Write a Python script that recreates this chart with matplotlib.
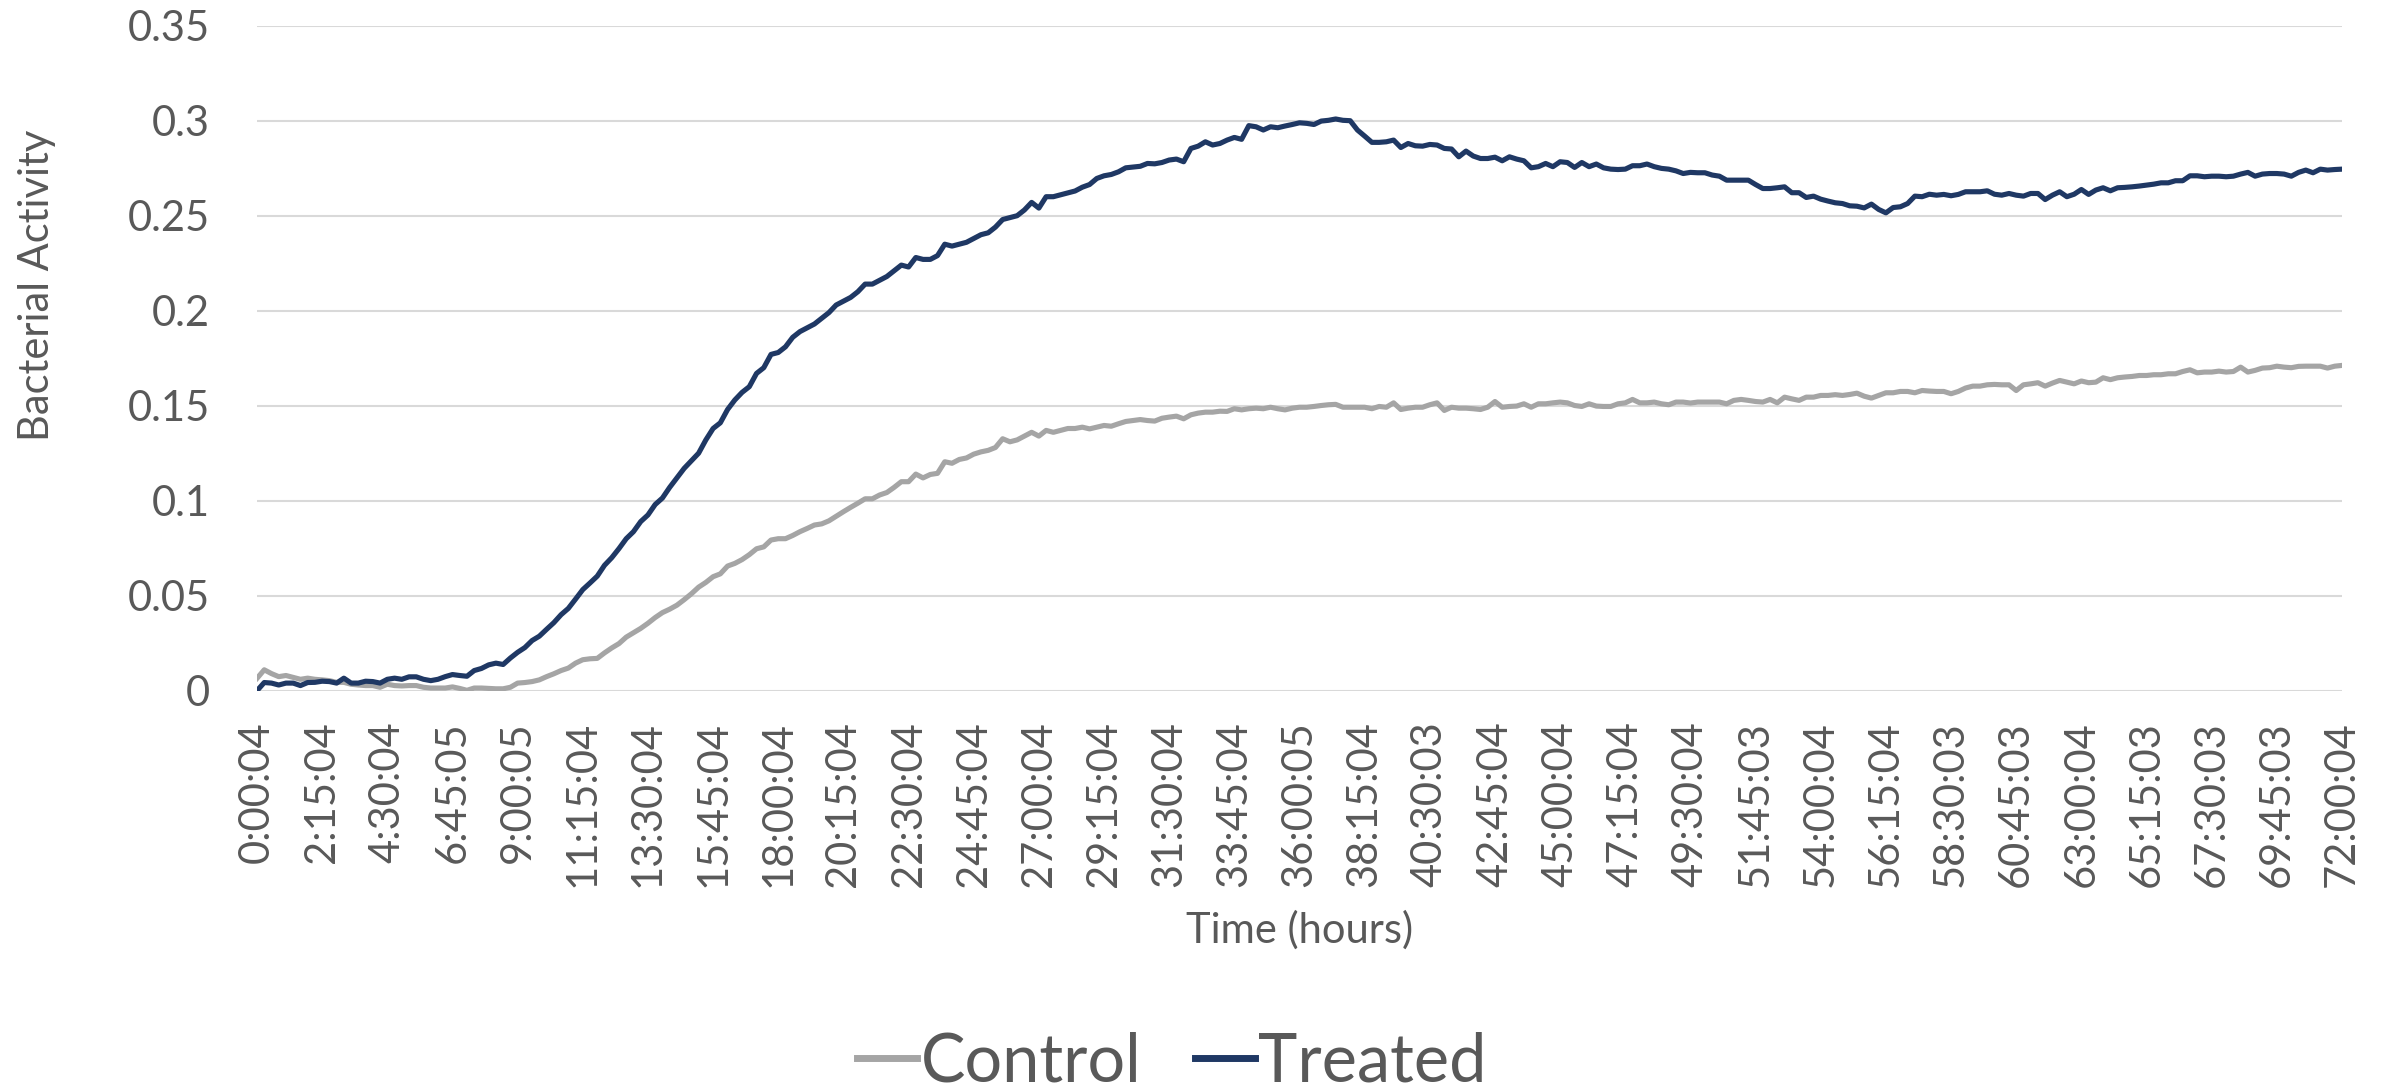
import matplotlib.pyplot as plt

plt.rcParams['font.family'] = ['Lato', 'DejaVu Sans']

# readings every 15 min, 0:00:04 .. 72:00:04
control = [
    0.0065, 0.011, 0.009, 0.0074, 0.008, 0.007, 0.006, 0.0066, 0.006, 0.0057,
    0.0053, 0.0044, 0.0044, 0.0034, 0.003, 0.0027, 0.0027, 0.0018, 0.0034, 0.0027,
    0.0025, 0.0027, 0.0027, 0.0018, 0.0014, 0.0014, 0.0014, 0.002, 0.0012, 0.0002,
    0.0014, 0.0014, 0.0012, 0.001, 0.001, 0.0018, 0.004, 0.0043, 0.0048, 0.0057,
    0.0074, 0.0089, 0.0106, 0.0119, 0.0145, 0.0163, 0.0168, 0.017, 0.0199, 0.0225,
    0.0248, 0.0282, 0.0305, 0.0328, 0.0355, 0.0385, 0.0411, 0.0429, 0.045, 0.0479,
    0.051, 0.0545, 0.057, 0.060, 0.0615, 0.0656, 0.067, 0.069, 0.0716, 0.0747,
    0.0757, 0.0793, 0.080, 0.080, 0.0817, 0.0837, 0.0854, 0.0872, 0.0878, 0.0894,
    0.0918, 0.0942, 0.0965, 0.0987, 0.101, 0.101, 0.103, 0.1043, 0.107, 0.110,
    0.110, 0.114, 0.112, 0.1138, 0.1144, 0.1205, 0.1197, 0.1217, 0.1225, 0.1245,
    0.1257, 0.1265, 0.128, 0.1326, 0.131, 0.132, 0.134, 0.136, 0.134, 0.137,
    0.136, 0.137, 0.138, 0.138, 0.1387, 0.1378, 0.1387, 0.1396, 0.1392, 0.1405,
    0.1417, 0.1422, 0.1427, 0.1422, 0.1419, 0.1434, 0.144, 0.1445, 0.1431, 0.1452,
    0.1461, 0.1466, 0.1466, 0.1471, 0.147, 0.1484, 0.1478, 0.1484, 0.1487, 0.1484,
    0.1492, 0.1484, 0.1478, 0.1487, 0.1492, 0.1492, 0.1496, 0.1501, 0.1505, 0.1507,
    0.1492, 0.1492, 0.1492, 0.1492, 0.1484, 0.1496, 0.1492, 0.1515, 0.148, 0.1487,
    0.1492, 0.1492, 0.1505, 0.1515, 0.1475, 0.1492, 0.1487, 0.1487, 0.1484, 0.148,
    0.1492, 0.1522, 0.1492, 0.1496, 0.1498, 0.151, 0.1492, 0.151, 0.151, 0.1515,
    0.1519, 0.1515, 0.1501, 0.1496, 0.151, 0.1498, 0.1496, 0.1496, 0.151, 0.1515,
    0.1533, 0.1515, 0.1515, 0.1519, 0.151, 0.1505, 0.1519, 0.1519, 0.1514, 0.1519,
    0.1519, 0.1519, 0.1519, 0.151, 0.1528, 0.1533, 0.1528, 0.1522, 0.1519, 0.1533,
    0.1515, 0.1545, 0.1536, 0.1528, 0.1545, 0.1545, 0.1554, 0.1554, 0.1558, 0.1554,
    0.1559, 0.1566, 0.155, 0.154, 0.1554, 0.1568, 0.1568, 0.1575, 0.1575, 0.1568,
    0.158, 0.1577, 0.1575, 0.1575, 0.1563, 0.1575, 0.1593, 0.1603, 0.1603, 0.161,
    0.1612, 0.161, 0.161, 0.158, 0.161, 0.1615, 0.1621, 0.1603, 0.1619, 0.1633,
    0.1624, 0.1615, 0.163, 0.1621, 0.1624, 0.1647, 0.1637, 0.1647, 0.1651, 0.1654,
    0.1659, 0.1659, 0.1663, 0.1663, 0.1668, 0.1668, 0.168, 0.1689, 0.1673, 0.1677,
    0.1677, 0.1682, 0.1677, 0.168, 0.1703, 0.1677, 0.1686, 0.1698, 0.17, 0.1708,
    0.1703, 0.17, 0.1707, 0.1708, 0.1708, 0.1708, 0.1698, 0.1708, 0.1712,
]

treated = [
    0.000, 0.0043, 0.004, 0.003, 0.004, 0.004, 0.0027, 0.0043, 0.0044, 0.005,
    0.0048, 0.004, 0.0066, 0.004, 0.004, 0.005, 0.0048, 0.004, 0.006, 0.0066,
    0.006, 0.0073, 0.0073, 0.006, 0.0053, 0.006, 0.0074, 0.0085, 0.008, 0.0076,
    0.0106, 0.0117, 0.0136, 0.0145, 0.0138, 0.0172, 0.0202, 0.0227, 0.0264, 0.0287,
    0.0323, 0.0358, 0.040, 0.0433, 0.0482, 0.0532, 0.0567, 0.0603, 0.066, 0.070,
    0.0748, 0.080, 0.0837, 0.089, 0.0925, 0.098, 0.1014, 0.107, 0.112, 0.117,
    0.121, 0.125, 0.132, 0.138, 0.141, 0.148, 0.153, 0.157, 0.160, 0.167,
    0.170, 0.177, 0.178, 0.181, 0.186, 0.189, 0.191, 0.193, 0.196, 0.199,
    0.203, 0.205, 0.207, 0.210, 0.214, 0.214, 0.216, 0.218, 0.221, 0.224,
    0.223, 0.228, 0.227, 0.227, 0.229, 0.235, 0.234, 0.235, 0.236, 0.238,
    0.240, 0.241, 0.244, 0.248, 0.249, 0.250, 0.253, 0.257, 0.254, 0.260,
    0.260, 0.261, 0.262, 0.263, 0.265, 0.2664, 0.2696, 0.271, 0.2717, 0.2731,
    0.2752, 0.2756, 0.276, 0.2775, 0.2773, 0.278, 0.2793, 0.2798, 0.2784, 0.2854,
    0.2866, 0.2889, 0.2872, 0.288, 0.2898, 0.2912, 0.2902, 0.2974, 0.2968, 0.2951,
    0.2968, 0.2963, 0.2972, 0.298, 0.2989, 0.2986, 0.298, 0.2998, 0.3002, 0.3009,
    0.3002, 0.300, 0.2951, 0.2919, 0.2886, 0.2886, 0.2889, 0.2898, 0.2859, 0.288,
    0.2868, 0.2866, 0.2875, 0.2872, 0.2854, 0.2851, 0.281, 0.284, 0.2814, 0.2801,
    0.2801, 0.2808, 0.2789, 0.281, 0.2798, 0.2789, 0.2752, 0.2758, 0.2775, 0.2758,
    0.2784, 0.278, 0.2754, 0.278, 0.2758, 0.2772, 0.2752, 0.2745, 0.2743, 0.2745,
    0.2763, 0.2763, 0.2772, 0.2758, 0.2749, 0.2745, 0.2736, 0.2722, 0.2728, 0.2726,
    0.2726, 0.2714, 0.2708, 0.2687, 0.2687, 0.2687, 0.2687, 0.2664, 0.2643, 0.2643,
    0.2647, 0.2652, 0.2621, 0.2621, 0.2596, 0.2603, 0.2587, 0.2577, 0.2568, 0.2564,
    0.2552, 0.255, 0.2541, 0.2561, 0.2533, 0.2515, 0.2543, 0.2547, 0.2564, 0.2603,
    0.26, 0.2613, 0.2608, 0.2612, 0.2605, 0.2612, 0.2626, 0.2626, 0.2626, 0.2631,
    0.2613, 0.2608, 0.2617, 0.2608, 0.2603, 0.2617, 0.2617, 0.2585, 0.2608, 0.2626,
    0.26, 0.2613, 0.2638, 0.2612, 0.2635, 0.2647, 0.2631, 0.2647, 0.2649, 0.2652,
    0.2656, 0.2661, 0.2666, 0.2673, 0.2673, 0.2684, 0.2684, 0.271, 0.271, 0.2705,
    0.2708, 0.2708, 0.2705, 0.2708, 0.2719, 0.2728, 0.2708, 0.2719, 0.2722, 0.2722,
    0.2719, 0.2708, 0.2728, 0.274, 0.2726, 0.2745, 0.274, 0.2743, 0.2745,
]

# every 9th reading is labelled on the axis
time_labels = [
    '0:00:04', '2:15:04', '4:30:04', '6:45:05', '9:00:05', '11:15:04',
    '13:30:04', '15:45:04', '18:00:04', '20:15:04', '22:30:04', '24:45:04',
    '27:00:04', '29:15:04', '31:30:04', '33:45:04', '36:00:05', '38:15:04',
    '40:30:03', '42:45:04', '45:00:04', '47:15:04', '49:30:04', '51:45:03',
    '54:00:04', '56:15:04', '58:30:03', '60:45:03', '63:00:04', '65:15:03',
    '67:30:03', '69:45:03', '72:00:04',
]
y_ticks = [0, 0.05, 0.1, 0.15, 0.2, 0.25, 0.3, 0.35]
y_tick_labels = ['0', '0.05', '0.1', '0.15', '0.2', '0.25', '0.3', '0.35']

text_col = '#595959'
W, H = 2388, 1091

fig = plt.figure(figsize=(W / 100, H / 100), dpi=100)
ax = fig.add_axes([257 / W, 1 - 690.7 / H, (2342 - 257) / W, (690.7 - 25.7) / H])

x = list(range(len(control)))
ax.plot(x, control, color='#A5A5A5', lw=3.7, label='Control', solid_joinstyle='round')
ax.plot(x, treated, color='#1F3864', lw=3.7, label='Treated', solid_joinstyle='round')

ax.set_xlim(0, len(control) - 1)
ax.set_ylim(0, 0.35)
ax.set_yticks(y_ticks)
ax.set_yticklabels(y_tick_labels)
ax.set_xticks(x[::9])
ax.set_xticklabels(time_labels, rotation=90, va='top', ha='center')
ax.tick_params(axis='both', length=0, labelsize=30, labelcolor=text_col)
ax.tick_params(axis='x', pad=22)
ax.tick_params(axis='y', pad=34)
ax.grid(axis='y', color='#D9D9D9', lw=1.5)
ax.set_axisbelow(True)
for s in ax.spines.values():
    s.set_visible(False)

fig.text(1300 / W, 1 - 930 / H, 'Time (hours)', ha='center', va='center',
         fontsize=30, color=text_col)
fig.text(37 / W, 1 - 285 / H, 'Bacterial Activity', ha='center', va='center',
         rotation=90, fontsize=30, color=text_col)

leg = fig.legend(loc='center', bbox_to_anchor=(1172 / W, 1 - 1062 / H), ncol=2,
                 frameon=False, fontsize=48, handlelength=0.9, handletextpad=0.05,
                 columnspacing=0.8)
for t in leg.get_texts():
    t.set_color(text_col)
for h in leg.get_lines():
    h.set_linewidth(5)

fig.savefig('out.png', dpi=100)
